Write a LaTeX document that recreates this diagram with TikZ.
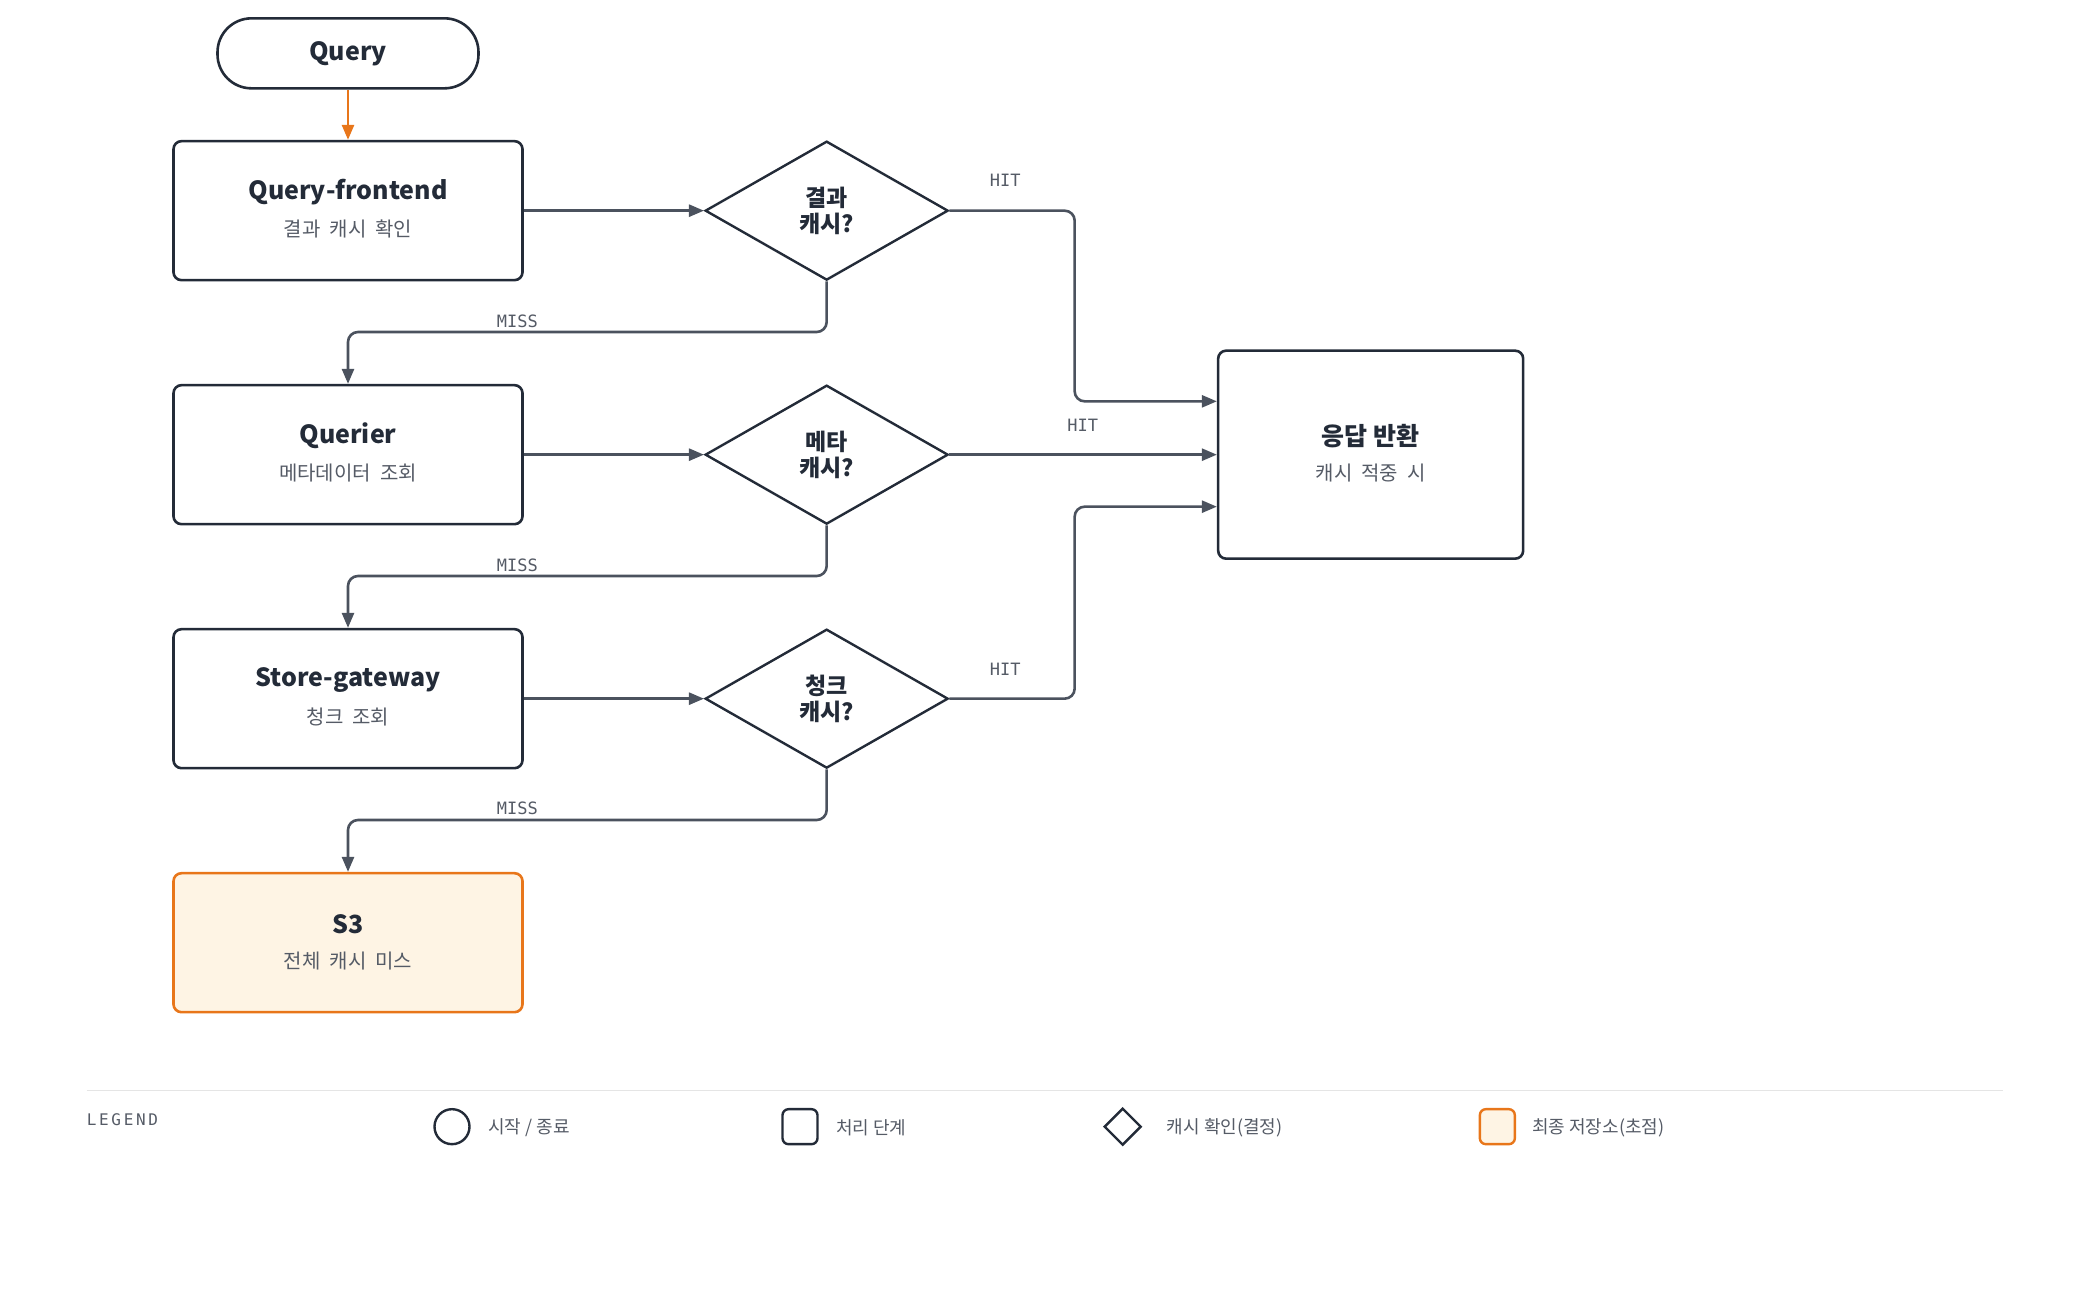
\documentclass[tikz,border=0pt]{standalone}
\usepackage{fontspec}
\setmainfont{Noto Sans CJK KR}
\setmonofont{DejaVu Sans Mono}
\usetikzlibrary{arrows.meta,shapes.geometric}
\definecolor{ink}{HTML}{232B38}
\definecolor{wire}{HTML}{4B525E}
\definecolor{sub}{HTML}{555B66}
\definecolor{org}{HTML}{E8761A}
\definecolor{cream}{HTML}{FEF4E4}
\begin{document}
\begin{tikzpicture}[x=1.3333pt,y=-1.3333pt,
  box/.style={draw=ink,line width=2.6pt,rounded corners=8pt,minimum width=349pt,minimum height=139pt,fill=white},
  dia/.style={draw=ink,line width=2.4pt,diamond,minimum width=243pt,minimum height=139pt,inner sep=0pt,fill=white,align=center,text=ink,font=\fontsize{23}{26.5}\selectfont\bfseries},
  ttl/.style={font=\fontsize{25}{30}\selectfont\bfseries,text=ink},
  st/.style={font=\fontsize{20}{22}\selectfont,text=sub},
  arr/.style={draw=wire,line width=2.6pt,rounded corners=10pt,-{Triangle[length=15pt,width=12pt]}},
  lab/.style={font=\ttfamily\fontsize{17}{17}\selectfont,text=sub},
  mlab/.style={lab,fill=white,inner sep=2pt},
  leg/.style={font=\fontsize{18}{18}\selectfont,text=sub,anchor=west,inner sep=0pt}]
\useasboundingbox (0,0) rectangle (1560,976.5);
% start
\node[draw=ink,line width=2.6pt,rounded corners=34pt,minimum width=261pt,minimum height=70pt,ttl] (q) at (261,40) {Query};
% boxes
\node[box] (qf) at (261,158) {};
\node[ttl] at (261,144) {Query-frontend};
\node[st] at (261,172) {결과\ \ 캐시\ \ 확인};
\node[box] (qr) at (261,341) {};
\node[ttl] at (261,327) {Querier};
\node[st] at (261,355) {메타데이터\ \ 조회};
\node[box] (sg) at (261,524) {};
\node[ttl] at (261,510) {Store-gateway};
\node[st] at (261,538) {청크\ \ 조회};
\node[box,draw=org,fill=cream] (s3) at (261,707) {};
\node[ttl] at (261,693) {S3};
\node[st] at (261,721) {전체\ \ 캐시\ \ 미스};
\node[draw=ink,line width=2.6pt,rounded corners=8pt,minimum width=305pt,minimum height=208pt] (resp) at (1028,341) {};
\node[ttl] at (1028,327) {응답 반환};
\node[st] at (1028,355) {캐시\ \ 적중\ \ 시};
% diamonds
\node[dia] (d1) at (620,158) {결과\\캐시?};
\node[dia] (d2) at (620,341) {메타\\캐시?};
\node[dia] (d3) at (620,524) {청크\\캐시?};
\coordinate (r1) at (914,301);
\coordinate (r3) at (914,380);
% connectors
\draw[arr,draw=org] (q) -- (qf);
\draw[arr] (qf) -- (d1);
\draw[arr] (qr) -- (d2);
\draw[arr] (sg) -- (d3);
\draw[arr] (d1.east) -- (806,158) -- (806,301) -- (resp.west |- r1);
\draw[arr] (d2.east) -- (resp.west);
\draw[arr] (d3.east) -- (806,524) -- (806,380) -- (resp.west |- r3);
\draw[arr] (d1.south) -- (620,249) -- (261,249) -- (qr.north);
\draw[arr] (d2.south) -- (620,432) -- (261,432) -- (sg.north);
\draw[arr] (d3.south) -- (620,615) -- (261,615) -- (s3.north);
\node[lab] at (754,135) {HIT};
\node[lab] at (812,319) {HIT};
\node[lab] at (754,502) {HIT};
\node[mlab] at (388,241) {MISS};
\node[mlab] at (388,424) {MISS};
\node[mlab] at (388,606) {MISS};
% legend
\draw[draw=black!10,line width=1.5pt] (65,818) -- (1502,818);
\node[font=\ttfamily\fontsize{16}{16}\selectfont,text=sub,anchor=west,inner sep=0pt] (lg) at (65,840) {L\,E\,G\,E\,N\,D};
\node[draw=ink,line width=2.4pt,circle,minimum size=35pt,inner sep=0pt] (c1) at (339,845) {};
\node[leg] at (366,846) {시작 / 종료};
\node[draw=ink,line width=2.4pt,rounded corners=6pt,minimum size=35pt,inner sep=0pt] (c2) at (600,845) {};
\node[leg] at (627,846) {처리 단계};
\node[draw=ink,line width=2.4pt,diamond,minimum size=37pt,inner sep=0pt] (c3) at (842,845) {};
\node[leg] at (875,846) {캐시 확인(결정)};
\node[draw=org,fill=cream,line width=2.4pt,rounded corners=6pt,minimum size=35pt,inner sep=0pt] (c4) at (1123,845) {};
\node[leg] at (1149,846) {최종 저장소(초점)};
\end{tikzpicture}
\end{document}
